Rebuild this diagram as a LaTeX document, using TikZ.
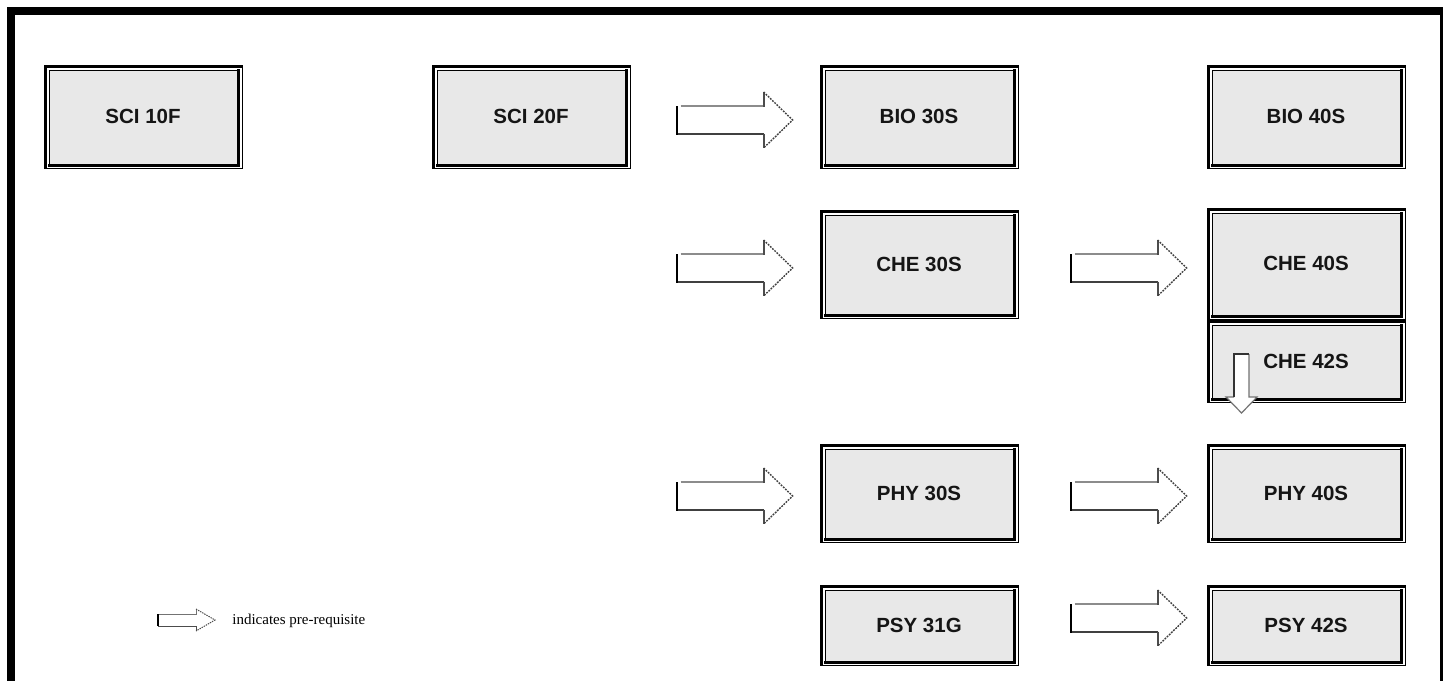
\documentclass[tikz,border=0pt]{standalone}
\usepackage{fontspec}
\setmainfont{Liberation Serif}
\setsansfont{Liberation Sans}
\usetikzlibrary{calc}
\definecolor{boxfill}{HTML}{E8E8E8}
\definecolor{txt}{HTML}{151515}
\tikzset{
  lbl/.style={font=\sffamily\bfseries\fontsize{10.25}{12}\selectfont, text=txt, inner sep=0pt},
  thinln/.style={line width=0.5pt, black},
  thickln/.style={line width=1.5pt, black},
  arrtop/.style={line width=0.75pt, black!45},
  arrbot/.style={line width=0.9pt, black!75},
  arrstep/.style={line width=1pt, black!70},
  arrhead/.style={line width=0.7pt, black!75, dash pattern=on 0.9pt off 0.6pt},
  arrleft/.style={line width=1pt, black},
  legendtext/.style={font=\fontsize{7.5}{9}\selectfont, anchor=west, inner sep=0pt}
}
\newcommand\coursebox[6]{%
  \fill[boxfill] (#2+5.5,#3+5) rectangle (#4-3.5,#5-3);
  \draw[thinln] (#2+5.5,#5-3) -- (#2+5.5,#3+5) -- (#4-3.5,#3+5);
  \draw[thickln,line cap=rect] (#2+5.5,#5-3) -- (#4-3.5,#5-3) -- (#4-3.5,#3+5);
  \draw[thickln] (#2+1.5,#5+0.5) -- (#2+1.5,#3+1.5) -- (#4+0.5,#3+1.5);
  \draw[thinln] (#2+1.5,#5) -- (#4,#5) -- (#4,#3+1.5);
  \pgfmathsetmacro\cbw{(#4-#2)*0.5}%
  \pgfmathsetmacro\cbh{(#5-#3)*0.5}%
  \node[lbl,minimum width=\cbw pt,minimum height=\cbh pt] (#1) at ({(#2+#4)/2},{(#3+#5)/2}) {#6};
}
\newcommand\blockarrow[3]{%
  \begin{scope}[shift={($(#1.west)+(-#2,#3)$)}]
    \fill[white] (-116,-14) -- (-29,-14) -- (-29,-28) -- (0,0) -- (-29,28) -- (-29,14) -- (-116,14) -- cycle;
    \draw[arrtop] (-112,-14) -- (-29,-14);
    \draw[arrbot] (-116,14) -- (-29,14);
    \draw[arrstep] (-29,-13.5) -- (-29,-28);
    \draw[arrstep] (-29,13.5) -- (-29,28);
    \draw[arrhead] (-29,-28) -- (0,0) -- (-29,28);
    \draw[arrleft] (-116,-14) -- (-116,14.5);
  \end{scope}
}
\begin{document}
\begin{tikzpicture}[x=0.5pt,y=-0.5pt]
  \useasboundingbox (0,0) rectangle (1443,680);
  \clip (0,0) rectangle (1443,680);
  \fill[white] (0,0) rectangle (1443,680);
  \draw[line width=4pt] (11,11) rectangle (1444,700);

  \coursebox{sci10}{44}{65}{242}{168}{SCI 10F}
  \coursebox{sci20}{432}{65}{630}{168}{SCI 20F}
  \coursebox{bio30}{820}{65}{1018}{168}{BIO 30S}
  \coursebox{bio40}{1207}{65}{1405}{168}{BIO 40S}
  \coursebox{che30}{820}{210}{1018}{318}{CHE 30S}
  \coursebox{che40}{1207}{208}{1405}{319}{CHE 40S}
  \coursebox{che42}{1207}{320}{1405}{402}{CHE 42S}
  \coursebox{phy30}{820}{444}{1018}{542}{PHY 30S}
  \coursebox{phy40}{1207}{444}{1405}{542}{PHY 40S}
  \coursebox{psy31}{820}{585}{1018}{665}{PSY 31G}
  \coursebox{psy42}{1207}{585}{1405}{665}{PSY 42S}

  \blockarrow{bio30}{27}{3.5}
  \blockarrow{che30}{27}{4}
  \blockarrow{che40}{20}{4.5}
  \blockarrow{phy30}{27}{3}
  \blockarrow{phy40}{20}{3}
  \blockarrow{psy42}{20}{-7}

  % small down arrow inside CHE 42S
  \fill[white] (1234,354) -- (1249,354) -- (1249,397) -- (1257,397) -- (1241.5,413) -- (1226,397) -- (1234,397) -- cycle;
  \draw[line width=0.6pt, black!55] (1249,354) -- (1249,397) -- (1257,397) -- (1241.5,413) -- (1226,397) -- (1234,397);
  \draw[line width=0.8pt, black!80] (1234,397) -- (1234,354) -- (1249,354);

  % legend
  \fill[white] (158,614) -- (196,614) -- (196,609) -- (215,620) -- (196,631) -- (196,626) -- (158,626) -- cycle;
  \draw[line width=0.5pt, black!55] (159,614) -- (196,614) -- (196,609);
  \draw[line width=0.5pt, black!70] (158,626) -- (196,626) -- (196,631);
  \draw[line width=0.5pt, black!70, dash pattern=on 0.7pt off 0.5pt] (196,609) -- (215,620) -- (196,631);
  \draw[line width=0.7pt, black] (158,614) -- (158,626.3);
  \node[legendtext] (legend) at (232,621) {indicates pre-requisite};
\end{tikzpicture}
\end{document}
